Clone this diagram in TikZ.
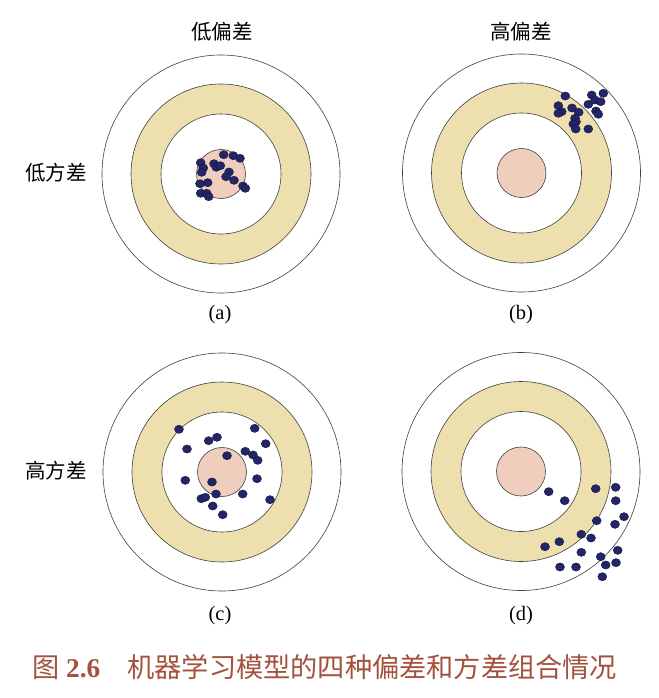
\documentclass[tikz,border=0pt]{standalone}
\usepackage{fontspec}
\setmainfont{Liberation Serif}
\newfontfamily\cjk{Noto Sans CJK SC}
\definecolor{ringc}{RGB}{237,224,174}
\definecolor{bullc}{RGB}{240,206,190}
\definecolor{dotc}{RGB}{35,37,105}
\definecolor{capc}{RGB}{164,82,62}
\tikzset{
  ringline/.style={draw=black!75,line width=0.6pt},
  shot/.style={fill=dotc,draw=dotc!55!black,line width=0.4pt},
  hlabel/.style={font=\cjk\fontsize{20.5}{24}\selectfont,inner sep=0pt},
  sublabel/.style={font=\fontsize{20.5}{24}\selectfont,inner sep=0pt},
  captext/.style={font=\cjk\fontsize{27.2}{32}\selectfont,text=capc,inner sep=0pt},
  target/.pic={
    \draw[ringline,fill=white] (0,0) circle[radius=119pt];
    \draw[ringline,fill=ringc] (0,0) circle[radius=90pt];
    \draw[ringline,fill=white] (0,0) circle[radius=60pt];
    \draw[ringline,fill=bullc] (0,0) circle[radius=24.5pt];
  }
}
\begin{document}
\begin{tikzpicture}[x=1pt,y=-1pt]
\useasboundingbox (0,0) rectangle (658,698);
\fill[white] (0,0) rectangle (658,698);
% targets
\pic at (221,174) {target};
\pic at (521.5,173) {target};
\pic at (222,472) {target};
\pic at (521,471.5) {target};
% shots (a)
\foreach \x/\y in {223.7/154.7,233.3/155.7,240/158.3,200.7/162.7,203.3/168,201.7/172.3,214/163.7,216.3/167.3,220.3/165.7,229/172,226/176.7,234/180.3,200/183.7,207.7/182.7,243/186,245.3/188.3,200.7/193.3,206.7/193.3,208.7/196.7}
  \draw[shot] (\x,\y) ellipse[x radius=4.5pt,y radius=4.1pt];
% shots (b)
\foreach \x/\y in {565.3/96,591.7/95,603.3/93.3,595/100,600.7/101.7,588.3/104.3,558.3/105.7,572/108,561.7/111.7,558.3/113.3,578.7/112.3,596/111,598.3/114.3,575/118.3,576/121.7,573.3/124,575.7/129,588.3/129}
  \draw[shot] (\x,\y) ellipse[x radius=4.5pt,y radius=4.1pt];
% shots (c)
\foreach \x/\y in {179/429.3,254.7/428.3,208.7/440.7,217/437.3,265.7/443.7,187/449,245.3/451.3,253/455,257.7/460.3,227/455.7,185.3/480.3,212/482,257/478.7,216/494,242.7/494,201.3/498.7,205.3/497.3,270/499.7,212.7/506,222.7/514.7}
  \draw[shot] (\x,\y) ellipse[x radius=4.5pt,y radius=4.1pt];
% shots (d)
\foreach \x/\y in {548.7/491.7,564.7/500.7,595.7/488.7,615.7/487.3,615.7/500.7,596.7/520.7,624/516.7,615/524.3,581.3/534.3,591/538,559.3/541.7,545/546.7,581.3/552.3,617.7/550.3,600.7/556.7,605.7/565,616/562.7,560/567,576/567,602.3/576.7}
  \draw[shot] (\x,\y) ellipse[x radius=4.5pt,y radius=4.1pt];
% labels
\node[hlabel] (lowbias) at (222,32) {低偏差};
\node[hlabel] (highbias) at (521,32) {高偏差};
\node[hlabel] (lowvar) at (56,173) {低方差};
\node[hlabel] (highvar) at (56,471) {高方差};
\node[sublabel] (suba) at (220,315) {(a)};
\node[sublabel] (subb) at (521,315) {(b)};
\node[sublabel] (subc) at (220,616) {(c)};
\node[sublabel] (subd) at (521,616) {(d)};
\node[captext] (caption) at (325,667) {图 {\rmfamily\bfseries 2.6}\quad 机器学习模型的四种偏差和方差组合情况};
\end{tikzpicture}
\end{document}
